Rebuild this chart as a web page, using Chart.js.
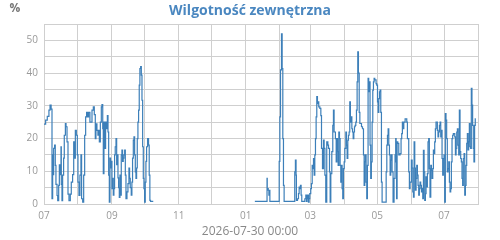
<!DOCTYPE html>
<html>
<head>
<meta charset="utf-8">
<script src="https://cdn.jsdelivr.net/npm/chart.js@4/dist/chart.umd.min.js"></script>
<style>
  body { margin: 0; background: #fff; }
  canvas { display: block; }
</style>
</head>
<body>
<canvas id="chart" width="500" height="240"></canvas>
<script>
// Texts
const titleText = 'Wilgotność zewnętrzna';
const unitText = '%';
const dateText = '2026-07-30 00:00';

// X axis: days counted from 2025-07-01, one grid line per month
const monthStarts = [0, 31, 62, 92, 123, 153, 184, 215, 243, 274, 304, 335, 365, 396];
const monthLabels = ['07', '08', '09', '10', '11', '12', '01', '02', '03', '04', '05', '06', '07', '08'];

// Readings before the gap (Jul - Oct)
const daysA = [
  0, 1.5, 3, 4.5, 5.5, 6.5, 7.3, 7.9, 8.5, 8.8,
  9.7, 10.3, 10.9, 11.9, 12.5, 13.4, 14, 14.6, 15.5, 15.8,
  16.4, 17, 17.9, 18.5, 19.5, 20.1, 21, 21.9, 22.8, 24,
  24.9, 26.1, 27.1, 27.7, 28.6, 29.5, 30.4, 31, 31.9, 32.8,
  33.7, 34.3, 35.3, 36.2, 37.1, 38, 38.9, 39.8, 40.7, 41.9,
  42.9, 43.8, 45, 45.9, 46.8, 47.4, 48.3, 49.2, 49.8, 50.5,
  51.4, 52.3, 52.9, 53.6, 54.1, 54.7, 55.6, 56.2, 57.1, 57.8,
  58.4, 59, 59.6, 60.2, 60.8, 61.4, 62, 62.6, 63.2, 63.8,
  64.4, 65, 65.7, 66.3, 66.9, 67.5, 68.1, 68.7, 69.3, 69.9,
  70.5, 71.1, 71.7, 72.3, 72.9, 73.6, 74.2, 74.8, 75.7, 76.6,
  77.5, 78.1, 78.7, 79.6, 80.2, 80.8, 81.5, 82.1, 82.7, 83.3,
  83.9, 84.5, 85.1, 85.7, 86.3, 86.9, 87.5, 88.2, 88.8, 89.4,
  90, 90.6, 91.2, 91.8, 92.4, 93, 93.6, 94.5, 95.4, 96,
  96.6, 97.2, 99.7
];
const humidityA = [
  24.4, 25.6, 26.8, 28.7, 30.2, 29, 1.6, 15, 9, 17,
  18, 11.8, 6, 2.6, 1, 5.7, 12, 9, 17.5, 6,
  1, 8.8, 14, 21, 24.6, 23.6, 19, 3, 1, 3,
  6.7, 9, 19, 14, 22.5, 21, 15, 6.7, 2.6, 8.8,
  15, 1.6, 0.6, 8.8, 21, 26.6, 28, 26.6, 28, 25,
  25, 28.7, 29.7, 27.3, 20, 24.5, 22.5, 21, 22.5, 19,
  25, 29.7, 30.4, 23, 9.3, 25, 17, 25, 23, 27,
  22, 8.8, 0.6, 14, 11, 13, 4.7, 7.8, 2.7, 4.7,
  15, 17.5, 20, 12, 15, 8, 5, 2, 8.8, 2.7,
  15, 16.5, 13, 14, 15, 16.5, 8.8, 1.6, 3.7, 6.2,
  11, 7.8, 5, 2.7, 6.7, 14, 19.5, 20.5, 15, 9.8,
  7.8, 11, 20, 25, 28.7, 36.3, 41.4, 42, 39.4, 31.7,
  17.5, 7.8, 4.7, 0.6, 6.7, 13, 17.5, 20, 18, 8.8,
  1.1, 0.8, 0.8
];

// Readings after the gap (Jan - Jul)
const daysB = [
  192.4, 203.5, 203.7, 204.6, 205.2, 205.5, 206.1, 214.6, 215.2, 215.8,
  216.7, 217.3, 217.9, 218.5, 219.1, 228.8, 229.4, 230, 230.3, 231.3,
  232.2, 232.8, 233.4, 234, 234.6, 235.2, 238, 238.9, 239.5, 240,
  240.6, 241.3, 241.9, 242.5, 243.4, 244, 244.7, 245.3, 245.9, 246.5,
  247.1, 247.7, 248.3, 248.9, 249.5, 250.1, 250.7, 251.7, 252.6, 253.2,
  254.1, 255, 255.6, 256.3, 257.1, 258, 259, 259.6, 260.5, 261.1,
  261.7, 262.6, 263.5, 264.1, 264.7, 265.9, 266.6, 267.2, 267.8, 268.4,
  269, 269.6, 270.2, 270.8, 271.4, 272, 272.6, 273.2, 273.9, 274.5,
  275.4, 276, 276.6, 277.2, 277.8, 278.4, 279, 279.6, 280.2, 280.9,
  281.5, 282.1, 282.7, 283.3, 283.9, 284.5, 285.1, 285.7, 286.3, 286.9,
  287.6, 288.2, 289.7, 290.6, 291.5, 292.1, 292.7, 293.3, 293.9, 294.5,
  295.1, 295.7, 296.3, 296.9, 297.5, 298.1, 298.7, 299.4, 300, 300.6,
  301.2, 301.8, 303, 303.6, 304.3, 304.9, 305.5, 306.1, 306.7, 307.3,
  307.9, 308.5, 312.2, 312.8, 313.4, 314, 314.6, 315.2, 315.8, 316.4,
  317, 317.6, 318.5, 319.4, 320.3, 320.9, 321.3, 321.7, 322.2, 322.8,
  323.7, 324.9, 325.8, 326.4, 327, 327.7, 328.3, 329.5, 331, 331.6,
  332.8, 333.4, 334, 335.2, 335.9, 336.5, 337.1, 337.7, 338.3, 338.9,
  339.5, 340.1, 340.7, 341.3, 341.9, 342.5, 343.1, 343.7, 344.4, 345,
  345.6, 346.2, 346.8, 347.4, 348, 348.6, 349.2, 349.8, 350.4, 351,
  351.6, 352.2, 352.9, 353.5, 354.1, 354.7, 355.3, 355.9, 356.5, 357.1,
  357.7, 358.9, 359.5, 360.1, 360.8, 361.4, 362, 362.6, 363.2, 363.8,
  364.4, 365, 365.6, 366.2, 366.8, 367.4, 368, 368.7, 369.3, 369.9,
  370.5, 371.1, 371.7, 372.3, 372.9, 373.5, 374.8, 375.4, 376, 376.6,
  377.2, 377.8, 378.4, 379, 379.6, 380.2, 380.8, 381.4, 382, 382.6,
  383.3, 383.9, 384.5, 385.1, 385.7, 386.3, 386.9, 387.5, 388.1, 388.7,
  389.3, 389.9, 390.5, 391.1, 391.7, 392.3, 392.9, 393.5, 394
];
const humidityB = [
  0.8, 7.8, 4.7, 4.2, 2.7, 4.2, 0.8, 13, 26.6, 41,
  52, 41.4, 20, 5.7, 0.8, 9.8, 13.4, 8.8, 1.1, 1.6,
  3.2, 5.2, 4.7, 5.7, 2.7, 0.8, 1.6, 2.7, 0.8, 1.6,
  2.7, 0.6, 1.6, 3.2, 4.7, 6.2, 11.8, 10.8, 13.9, 8.8,
  15, 20, 26.6, 32.8, 30.7, 31.2, 29.7, 29.2, 27, 17,
  10.8, 19.5, 17, 8.8, 0.6, 19, 18, 17, 9.8, 0.6,
  9.3, 16, 24, 28.7, 22, 20, 12.9, 20, 16, 11.8,
  22, 20, 11.8, 6.7, 11.8, 4.7, 1.6, 10.8, 12.9, 17,
  22, 18, 13.9, 19.5, 21, 22, 31.2, 25, 26.6, 23,
  22, 20, 22, 23.6, 24, 25, 28.7, 37.3, 46.5, 40,
  28, 24.6, 23.6, 23, 15, 5.7, 12.9, 15, 6.7, 1.6,
  11.8, 38.4, 34.3, 37.3, 18, 7.8, 12.9, 25, 34.8, 37.3,
  38.4, 37.9, 36.8, 36.3, 31.2, 28, 32.2, 34.3, 34.8, 28,
  6.7, 0.6, 9.8, 18, 21, 23, 18, 15, 8.8, 13.4,
  15, 9.8, 0.6, 7.8, 15, 20, 12.9, 1.6, 19, 18.5,
  15, 15.4, 20, 21.5, 25, 23, 25, 26, 25, 20,
  9.8, 4.7, 6.7, 13.4, 11, 3.7, 2.1, 19, 11, 4.2,
  7.8, 11.8, 8.8, 5.7, 2.7, 4.7, 6.7, 5.7, 3.7, 4.7,
  1.6, 16.4, 9.8, 1.1, 3.2, 8.3, 5.2, 9.3, 19, 20,
  10.8, 2.1, 11.8, 10.3, 7.8, 10.8, 16.5, 15.4, 19, 23,
  25, 22.5, 20.5, 22, 24, 25, 20.5, 22.5, 13.9, 8.8,
  13.9, 15, 0.6, 27.6, 25.6, 20, 9.8, 10.8, 12.9, 6.7,
  3.7, 4.7, 12.9, 20, 21, 21.5, 20.5, 15, 17, 22,
  23, 18, 15, 28.7, 16, 13.9, 12.9, 7.8, 5.7, 13.9,
  15.4, 2.7, 5.7, 11.8, 18.5, 21.5, 16.5, 19, 24.6, 17.5,
  17, 35.3, 30.2, 24, 17, 12.9, 24, 26, 26
];

const lineColor = '#3c7fb9';
const gridColor = '#cfcfcf';
const tickColor = '#999999';

// Build points, with one empty point so the line breaks over the missing months
const points = [];
daysA.forEach((d, i) => points.push({ x: d, y: humidityA[i] }));
points.push({ x: 150, y: null });
daysB.forEach((d, i) => points.push({ x: d, y: humidityB[i] }));

// Title, unit and date label
const textPlugin = {
  id: 'texts',
  afterDraw(chart) {
    const ctx = chart.ctx;
    ctx.save();
    ctx.textBaseline = 'middle';
    ctx.textAlign = 'center';
    ctx.fillStyle = '#4a87c0';
    ctx.font = 'bold 14px "Open Sans"';
    ctx.fillText(titleText, chart.width / 2, 11);
    ctx.fillStyle = '#777777';
    ctx.font = 'bold 12px "Open Sans"';
    ctx.fillText(unitText, 15, 9);
    ctx.fillStyle = '#888888';
    ctx.font = '12px "Open Sans"';
    ctx.fillText(dateText, chart.width / 2, 232);
    ctx.restore();
  }
};

new Chart(document.getElementById('chart').getContext('2d'), {
  type: 'line',
  data: {
    datasets: [{
      data: points,
      borderColor: lineColor,
      borderWidth: 1.2,
      pointRadius: 0,
      stepped: true,
      spanGaps: false,
      fill: false
    }]
  },
  options: {
    responsive: false,
    animation: false,
    layout: { padding: { top: 24, right: 22, left: 0, bottom: 0 } },
    plugins: { legend: { display: false }, tooltip: { enabled: false } },
    scales: {
      x: {
        type: 'linear',
        min: 0,
        max: 396,
        afterBuildTicks: scale => { scale.ticks = monthStarts.map(v => ({ value: v })); },
        afterFit: scale => { scale.height = 36; },
        grid: { color: gridColor, drawTicks: false },
        border: { color: gridColor },
        ticks: {
          autoSkip: false,
          maxRotation: 0,
          padding: 6,
          color: tickColor,
          font: { family: 'Open Sans', size: 10 },
          callback: (v, i) => (i % 2 === 0 ? monthLabels[i] : '')
        }
      },
      y: {
        min: 0,
        max: 55,
        afterFit: scale => { scale.width = 44; },
        grid: { color: gridColor, drawTicks: false },
        border: { color: gridColor },
        ticks: {
          stepSize: 5,
          padding: 6,
          color: tickColor,
          font: { family: 'Open Sans', size: 10 },
          callback: v => (v % 10 === 0 ? v : '')
        }
      }
    }
  },
  plugins: [textPlugin]
});
</script>
</body>
</html>
